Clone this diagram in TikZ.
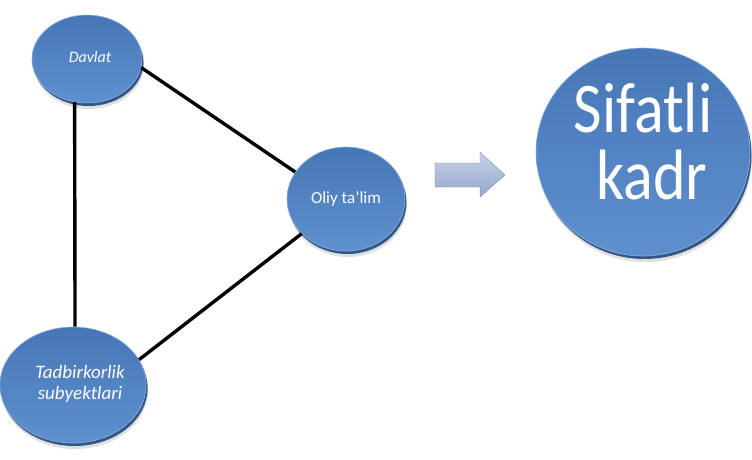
\documentclass[tikz,border=0pt]{standalone}
\usepackage{fontspec}
\setmainfont{Carlito}
\usetikzlibrary{shapes.geometric,shadows}
\definecolor{discTop}{HTML}{4776B6}
\definecolor{discBot}{HTML}{5E90D0}
\definecolor{discRim}{HTML}{3A6498}
\definecolor{arrTop}{HTML}{C9D3E8}
\definecolor{arrBot}{HTML}{93A6CB}
\tikzset{
  disc/.style={ellipse, inner sep=0pt, text=white, align=center,
    top color=discTop, bottom color=discBot, draw=discBot!70!white, line width=0.6pt,
    drop shadow={shadow xshift=1.5pt, shadow yshift=-3pt, fill=discRim, opacity=1},
    drop shadow={shadow xshift=2pt, shadow yshift=-6pt, fill=black, opacity=0.12}},
  link/.style={line width=3.4pt, black}
}
\begin{document}
\begin{tikzpicture}[x=1pt,y=-1pt]
\useasboundingbox (0,0) rectangle (752,459);
\node[disc, minimum width=110pt, minimum height=88pt, font=\itshape\fontsize{16}{19}\selectfont] (davlat) at (87,59) {\hspace*{6pt}\raisebox{5pt}{Davlat}};
\node[disc, minimum width=118pt, minimum height=104pt, font=\fontsize{17}{20}\selectfont] (oliy) at (346,199) {Oliy ta’lim};
\node[disc, minimum width=126pt, minimum height=116pt, font=\itshape\fontsize{19}{22}\selectfont] (tadb) at (73,385) {\hspace*{14pt}\raisebox{2pt}{\begin{tabular}{@{}c@{}}Tadbirkorlik\\[-1pt]subyektlari\end{tabular}}};
\node[disc, minimum width=214pt, minimum height=208pt, font=\fontsize{62}{62}\selectfont] (kadr) at (643,152) {\scalebox{1}[1.15]{\begin{tabular}{@{}c@{}}Sifatli\\[-4pt]\hspace*{18pt}kadr\end{tabular}}};
\draw[link] (davlat.254) -- (tadb.88);
\draw[link] (davlat.-9) -- (oliy.152);
\draw[link] (oliy.218) -- (tadb.21);
\shade[top color=arrTop, bottom color=arrBot, draw=arrBot!80!black, line width=0.3pt]
  (435,163) -- (480,163) -- (480,152) -- (505,175) -- (480,197) -- (480,187) -- (435,187) -- cycle;
\end{tikzpicture}
\end{document}
